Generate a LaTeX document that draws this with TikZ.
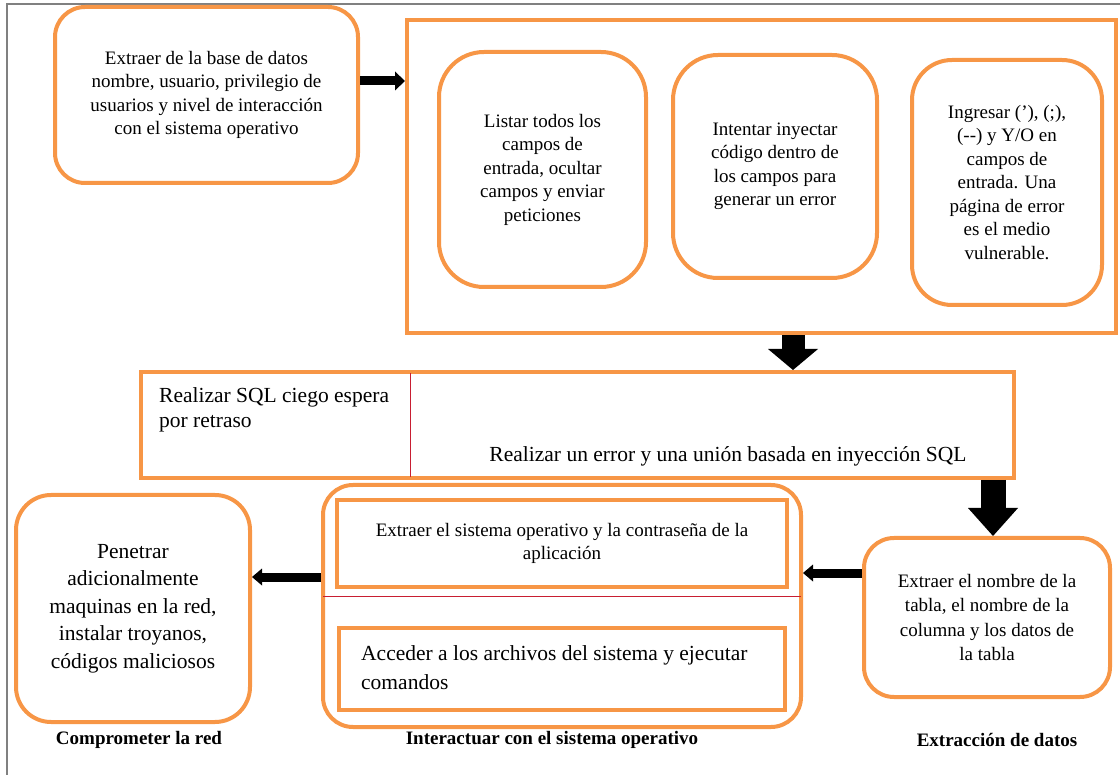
\documentclass[tikz,border=0pt]{standalone}
\usepackage{fontspec}
\setmainfont{Liberation Serif}
\usetikzlibrary{arrows.meta}
\definecolor{boxorange}{RGB}{247,150,70}
\definecolor{divred}{RGB}{200,30,50}
\definecolor{framegray}{RGB}{128,128,128}
\newcommand\setfs[2]{\fontsize{#1}{#2}\selectfont}

\begin{document}
\begin{tikzpicture}[x=1pt,y=-1pt,
  roundbox/.style={draw=boxorange, line width=4pt, rounded corners=#1,
    align=center, inner sep=0pt, fill=white},
  roundbox/.default=30pt,
  sharpbox/.style={draw=boxorange, line width=4pt, inner sep=0pt, align=center},
  bodytext/.style={font=\setfs{19}{23.5}},
  bigtext/.style={font=\setfs{21.5}{27.5}},
  caption/.style={font=\bfseries\setfs{19}{23}},
  fatarrow/.style n args={3}{draw=black, line width=#1,
    -{Triangle[length=#2, width=#3, line width=0pt]}},
  divider/.style={draw=divred, line width=0.8pt}]

\useasboundingbox (0,0) rectangle (1120,775);

% page frame (only top and left edges fall inside the picture)
\draw[framegray, line width=1.5pt] (7,775) -- (7,4) -- (1120,4);

% --- first stage
\node[roundbox, bodytext, minimum width=303pt, minimum height=176pt] (A) at (206.5,95)
  {Extraer de la base de datos\\nombre, usuario, privilegio de\\usuarios y nivel de interacción\\con el sistema operativo};

% --- probing stage (large frame with three steps)
\node[sharpbox, minimum width=709pt, minimum height=313pt] (big) at (761.5,176.5) {};
\node[roundbox=45pt, bodytext, minimum width=207pt, minimum height=235pt] (B1) at (542.5,169.5)
  {Listar todos los\\campos de\\entrada, ocultar\\campos y enviar\\peticiones};
\node[roundbox=45pt, bodytext, minimum width=204pt, minimum height=223pt] (B2) at (775,166.5)
  {Intentar inyectar\\código dentro de\\los campos para\\generar un error};
\node[roundbox=40pt, bodytext, minimum width=190pt, minimum height=245pt] (B3) at (1007,182.5)
  {Ingresar (’), (;),\\(-{}-) y Y/O en\\campos de\\entrada. Una\\página de error\\es el medio\\vulnerable.};

% --- injection stage
\node[sharpbox, minimum width=873pt, minimum height=106pt] (SQL) at (577.5,425) {};
\coordinate (xSplit) at (410,0);
\draw[divider, shorten <=3pt, shorten >=3pt] (SQL.north -| xSplit) -- (SQL.south -| xSplit);
\node[bigtext, font=\setfs{21.5}{25}, align=left, anchor=west, inner sep=0pt] (sqlL) at (159,410)
  {Realizar SQL ciego espera\\por retraso};
\node[bigtext, inner sep=0pt] (sqlR) at (728,456)
  {Realizar un error y una unión basada en inyección SQL};

% --- data extraction
\node[roundbox=30pt, bodytext, font=\setfs{19}{24.5}, minimum width=246pt, minimum height=159pt] (E) at (987,617.5)
  {Extraer el nombre de la\\tabla, el nombre de la\\columna y los datos de\\la tabla};

% --- operating system interaction
\node[roundbox=30pt, minimum width=478pt, minimum height=242pt] (D) at (562,606) {};
\node[sharpbox, bodytext, font=\setfs{19}{23}, minimum width=450pt, minimum height=87pt] (D1) at (562,543.5)
  {Extraer el sistema operativo y la contraseña de la\\aplicación};
\node[sharpbox, minimum width=446pt, minimum height=82pt] (D2) at (562,669) {};
\node[font=\setfs{21.5}{29}, align=left, anchor=west, inner sep=0pt] (D2t) at (361,667.5)
  {Acceder a los archivos del sistema y ejecutar\\comandos};
\coordinate (yDiv) at (0,596);
\draw[divider, shorten <=2pt, shorten >=2pt] (D.west |- yDiv) -- (D.east |- yDiv);

% --- network compromise
\node[roundbox=35pt, bigtext, minimum width=234pt, minimum height=227pt] (C) at (133,608.5)
  {Penetrar\\adicionalmente\\maquinas en la red,\\instalar troyanos,\\códigos maliciosos};

% --- stage captions
\node[caption] (capC) at (139,740) {Comprometer la red};
\node[caption] (capD) at (552,740) {Interactuar con el sistema operativo};
\node[caption] (capE) at (997,740) {Extracción de datos};

% --- flow arrows
\coordinate (yAB) at (0,81);
\draw[fatarrow={9pt}{10pt}{19pt}] (A.east |- yAB) -- (big.west |- yAB);
\coordinate (xBS) at (793,0);
\draw[fatarrow={23pt}{21pt}{50pt}] (big.south -| xBS) -- (SQL.north -| xBS);
\coordinate (xSE) at (993,0);
\draw[fatarrow={25pt}{28pt}{50pt}] (SQL.south -| xSE) -- (E.north -| xSE);
\coordinate (yED) at (0,573);
\draw[fatarrow={9pt}{10pt}{17pt}] (E.west |- yED) -- (D.east |- yED);
\coordinate (yDC) at (0,577);
\draw[fatarrow={9pt}{10pt}{17pt}] (D.west |- yDC) -- (C.east |- yDC);

\end{tikzpicture}
\end{document}
